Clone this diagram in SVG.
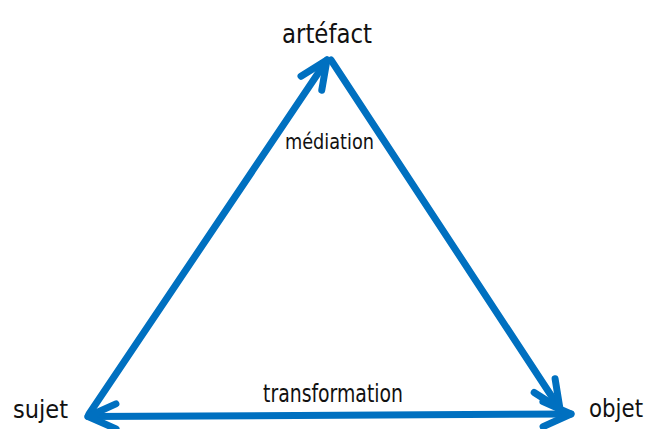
<svg xmlns="http://www.w3.org/2000/svg" width="647" height="429" viewBox="0 0 647 429">
<style>
.edge{fill:none;stroke:#0070C0;stroke-width:7;stroke-linecap:round;stroke-linejoin:round}
.lbl{font-family:"DejaVu Sans Condensed","DejaVu Sans","Liberation Sans",sans-serif;font-stretch:condensed;fill:#111}
</style>
<defs>
<marker id="ah" markerUnits="userSpaceOnUse" markerWidth="40" markerHeight="40" viewBox="-34 -18 40 36" refX="0" refY="0" orient="auto-start-reverse" overflow="visible">
<path d="M -28,-12.5 L 0,0 L -28,12.5" fill="none" stroke="#0070C0" stroke-width="7" stroke-linecap="round" stroke-linejoin="round"/>
</marker>
</defs>
<rect width="647" height="429" fill="#fff"/>
<g id="connectors">
<path class="edge" d="M 89,414 L 327,60" marker-end="url(#ah)"/>
<path class="edge" d="M 331,60 L 560,409" marker-end="url(#ah)"/>
<path class="edge" d="M 88,416.5 L 571,414" marker-start="url(#ah)" marker-end="url(#ah)"/>
</g>
<g id="node-artefact"><text class="lbl" x="282" y="43" font-size="27" textLength="90" lengthAdjust="spacingAndGlyphs">artéfact</text></g>
<g id="node-sujet"><text class="lbl" x="13" y="418" font-size="25" textLength="55" lengthAdjust="spacingAndGlyphs">sujet</text></g>
<g id="node-objet"><text class="lbl" x="589" y="417" font-size="25" textLength="54" lengthAdjust="spacingAndGlyphs">objet</text></g>
<g id="label-mediation"><text class="lbl" x="285" y="149" font-size="21.5" textLength="89" lengthAdjust="spacingAndGlyphs">médiation</text></g>
<g id="label-transformation"><text class="lbl" x="263" y="402" font-size="25" textLength="140" lengthAdjust="spacingAndGlyphs">transformation</text></g>
</svg>
